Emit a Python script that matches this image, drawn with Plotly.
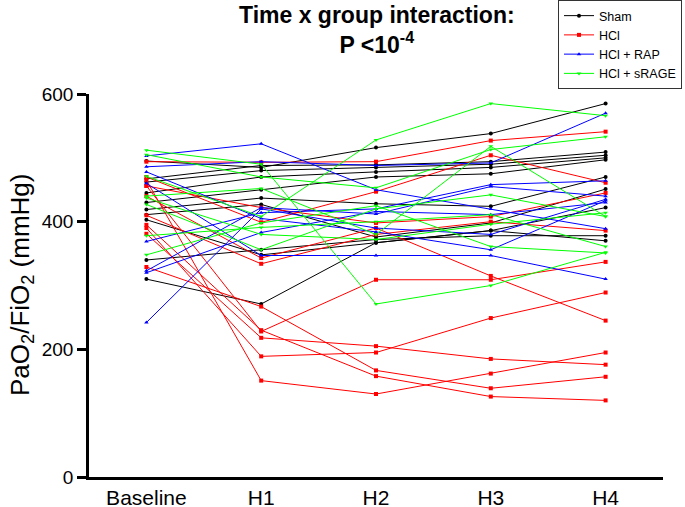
import plotly.graph_objects as go

times = ["Baseline", "H1", "H2", "H3", "H4"]

# Sham
sham = [
    [495, 485, 516, 538, 585],
    [467, 488, 489, 494, 509],
    [462, 480, 485, 490, 504],
    [445, 470, 478, 485, 500],
    [430, 450, 470, 475, 497],
    [419, 437, 428, 424, 470],
    [411, 427, 376, 398, 451],
    [403, 348, 367, 386, 422],
    [340, 356, 372, 378, 378],
    [310, 271, 367, 386, 370],
]
# HCl
hcl = [
    [494, 493, 494, 527, 541],
    [470, 399, 447, 504, 461],
    [456, 422, 398, 408, 445],
    [440, 343, 390, 315, 245],
    [410, 334, 380, 400, 386],
    [465, 151, 130, 162, 195],
    [390, 189, 195, 249, 289],
    [381, 218, 205, 185, 176],
    [456, 228, 309, 309, 337],
    [329, 267, 167, 139, 157],
    [395, 230, 158, 126, 120],
]
# HCl + RAP
rap = [
    [503, 522, 450, 420, 389],
    [486, 494, 488, 492, 570],
    [369, 414, 420, 458, 464],
    [323, 422, 412, 455, 440],
    [320, 383, 416, 411, 430],
    [242, 420, 390, 380, 435],
    [460, 347, 347, 347, 310],
    [478, 405, 384, 356, 433],
]
# HCl + sRAGE
srage = [
    [512, 490, 271, 300, 352],
    [471, 408, 528, 585, 566],
    [505, 470, 453, 513, 533],
    [437, 380, 372, 396, 414],
    [427, 356, 420, 442, 408],
    [378, 391, 400, 411, 361],
    [348, 398, 425, 361, 351],
    [440, 452, 380, 518, 408],
]

groups = [
    ("Sham", sham, "#000000", "circle"),
    ("HCl", hcl, "#FF0000", "square"),
    ("HCl + RAP", rap, "#0000FF", "triangle-up"),
    ("HCl + sRAGE", srage, "#00FF00", "triangle-down"),
]

fig = go.Figure()
for name, rows, color, sym in groups:
    for i, row in enumerate(rows):
        fig.add_trace(go.Scatter(
            x=list(range(len(times))), y=row, mode="lines+markers",
            name=name, legendgroup=name, showlegend=(i == 0),
            line=dict(color=color, width=1),
            marker=dict(color=color, size=4, symbol=sym),
        ))

W, H = 685, 507
L, R, T, B = 89, 22, 94, 30
pw, ph = W - L - R, H - T - B

def px(x):
    return (x - L) / pw

def py(y):
    return (H - B - y) / ph

fig.update_layout(
    width=W, height=H,
    margin=dict(l=L, r=R, t=T, b=B, autoexpand=False),
    plot_bgcolor="white", paper_bgcolor="white",
    font=dict(family="Liberation Sans, Arial, sans-serif", color="black"),
    showlegend=True,
    legend=dict(
        x=px(682), y=py(0), xanchor="right", yanchor="top",
        bordercolor="#333333", borderwidth=1, bgcolor="white",
        font=dict(size=12.5), tracegroupgap=0, itemwidth=30,
    ),
    xaxis=dict(
        range=[-0.5, 4.5], tickvals=list(range(len(times))), ticktext=times,
        showgrid=False, zeroline=False, showline=True, linecolor="black",
        linewidth=2.5, ticks="", tickfont=dict(size=21),
    ),
    yaxis=dict(
        range=[0, 600], tickvals=[0, 200, 400, 600], showgrid=False,
        zeroline=False, showline=True, linecolor="black", linewidth=2.5,
        ticks="outside", ticklen=9, tickwidth=2.5, tickcolor="black",
        tickfont=dict(size=19),
    ),
    annotations=[
        dict(text="<b>Time x group interaction:</b><br><b>P &lt;10<sup>-4</sup></b>",
             xref="paper", yref="paper", x=px(377), y=py(0), xanchor="center",
             yanchor="top", showarrow=False, font=dict(size=23), align="center"),
        dict(text="PaO<sub>2</sub>/FiO<sub>2</sub> (mmHg)", textangle=-90,
             xref="paper", yref="paper", x=px(21), y=py(285), xanchor="center",
             yanchor="middle", showarrow=False, font=dict(size=26)),
    ],
)

fig.write_html("out.html", config={"displayModeBar": False},
               post_script="document.body.style.margin='0px';")
